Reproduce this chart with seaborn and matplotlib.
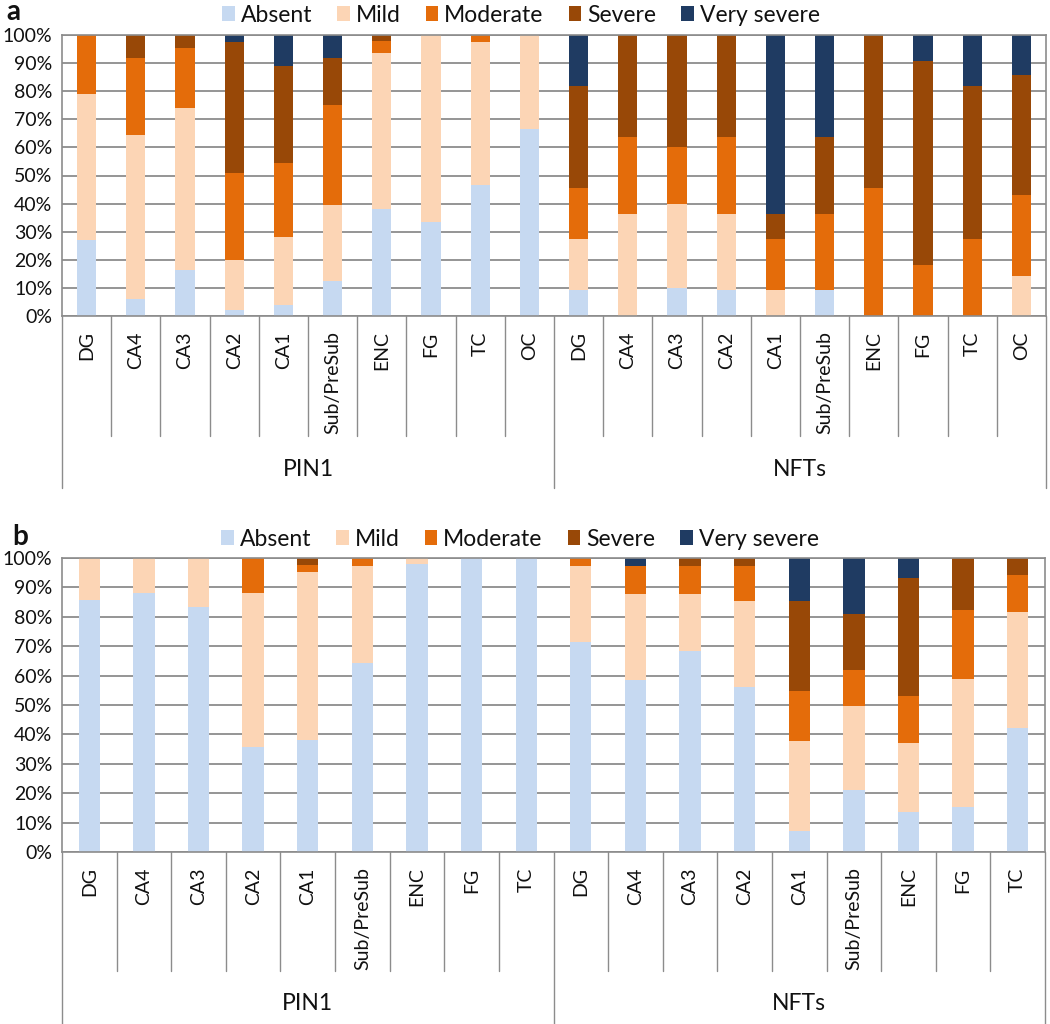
import matplotlib
matplotlib.use("Agg")
import matplotlib.pyplot as plt
import matplotlib.transforms as mtransforms
from matplotlib.patches import Patch
import pandas as pd
import seaborn as sns

# categories
regions_a = ['DG', 'CA4', 'CA3', 'CA2', 'CA1', 'Sub/PreSub', 'ENC', 'FG', 'TC', 'OC']
regions_b = ['DG', 'CA4', 'CA3', 'CA2', 'CA1', 'Sub/PreSub', 'ENC', 'FG', 'TC']
groups = ['PIN1', 'NFTs']
severity = ['Absent', 'Mild', 'Moderate', 'Severe', 'Very severe']
colors = ['#C6D9F1', '#FCD5B5', '#E46C0A', '#984807', '#1F3B62']

# panel a: % of cases per severity (PIN1 regions then NFTs regions)
a_absent = [27.0, 6.0, 16.3, 2.0, 4.0, 12.3, 38.2, 33.3, 46.6, 66.7,
            9.1, 0.0, 10.0, 9.1, 0.0, 9.1, 0.0, 0.0, 0.0, 0.0]
a_mild = [52.0, 58.3, 57.8, 17.9, 24.2, 27.1, 55.5, 66.7, 51.0, 33.3,
          18.2, 36.4, 30.0, 27.3, 9.1, 0.0, 0.0, 0.0, 0.0, 14.3]
a_moderate = [21.0, 27.4, 21.3, 31.1, 26.1, 35.7, 4.3, 0.0, 2.4, 0.0,
              18.2, 27.3, 20.0, 27.3, 18.2, 27.3, 45.5, 18.2, 27.3, 28.6]
a_severe = [0.0, 8.3, 4.6, 46.6, 34.7, 16.6, 2.0, 0.0, 0.0, 0.0,
            36.4, 36.3, 40.0, 36.3, 9.1, 27.3, 54.5, 72.7, 54.5, 42.9]
a_very = [0.0, 0.0, 0.0, 2.4, 11.0, 8.3, 0.0, 0.0, 0.0, 0.0,
          18.1, 0.0, 0.0, 0.0, 63.6, 36.3, 0.0, 9.1, 18.2, 14.2]

# panel b
b_absent = [85.7, 88.0, 83.3, 35.7, 38.0, 64.2, 97.8, 100.0, 100.0,
            71.3, 58.6, 68.3, 56.1, 7.1, 21.2, 13.7, 15.3, 42.2]
b_mild = [14.3, 12.0, 16.7, 52.3, 57.3, 33.2, 2.2, 0.0, 0.0,
          26.1, 29.1, 19.4, 29.3, 30.8, 28.6, 23.5, 43.6, 39.6]
b_moderate = [0.0, 0.0, 0.0, 12.0, 2.2, 2.6, 0.0, 0.0, 0.0,
              2.6, 9.7, 9.7, 12.0, 17.0, 12.0, 16.0, 23.3, 12.3]
b_severe = [0.0, 0.0, 0.0, 0.0, 2.5, 0.0, 0.0, 0.0, 0.0,
            0.0, 0.0, 2.6, 2.6, 30.6, 19.1, 39.9, 17.8, 5.9]
b_very = [0.0, 0.0, 0.0, 0.0, 0.0, 0.0, 0.0, 0.0, 0.0,
          0.0, 2.6, 0.0, 0.0, 14.5, 19.1, 6.9, 0.0, 0.0]

sns.set_style('white')
plt.rcParams['font.family'] = ['Lato', 'DejaVu Sans']

GRID = '#8C8C8C'
palette = dict(zip(severity, colors))


def long_table(series, n):
    rows = []
    for sev, vals in zip(severity, series):
        for i, v in enumerate(vals):
            rows.append({'pos': i, 'severity': sev, 'pct': v})
    return pd.DataFrame(rows)


def draw_panel(ax, regions, series, sep_depth, grp_depth, grp_y):
    cats = regions + regions
    n = len(cats)
    df = long_table(series, n)
    # seaborn stacks the first hue level on top, so reverse the order
    sns.histplot(data=df, x='pos', hue='severity', weights='pct',
                 multiple='stack', discrete=True, shrink=0.39,
                 hue_order=severity[::-1], palette=palette,
                 linewidth=0, alpha=1, legend=False, ax=ax)
    ax.set_xlim(-0.5, n - 0.5)
    ax.set_ylim(0, 100)
    ax.set_yticks(range(0, 101, 10))
    ax.set_yticklabels([f'{v}%' for v in range(0, 101, 10)])
    ax.set_xticks(range(n))
    ax.set_xticklabels(cats, rotation=90)
    ax.set_xlabel('')
    ax.set_ylabel('')
    ax.yaxis.grid(True, color=GRID, lw=1.3)
    ax.set_axisbelow(True)
    for s in ax.spines.values():
        s.set_color(GRID)
        s.set_linewidth(1.2)
    ax.tick_params(axis='y', length=3, color=GRID, labelsize=14, pad=4,
                   labelcolor='#111111')
    ax.tick_params(axis='x', length=0, labelsize=14, pad=11,
                   labelcolor='#111111')

    trans = mtransforms.blended_transform_factory(ax.transData, ax.transAxes)
    half = n // 2
    for i in range(n + 1):
        x = i - 0.5
        depth = grp_depth if i in (0, half, n) else sep_depth
        ax.plot([x, x], [0, depth], transform=trans, clip_on=False,
                color=GRID, lw=1.0)
    for g, grp in enumerate(groups):
        ax.text(g * half + (half - 1) / 2, grp_y, grp, transform=trans,
                ha='center', va='center', fontsize=16.5, color='#111111')


fig = plt.figure(figsize=(10.5, 10.24), dpi=100)
ax_a = fig.add_axes([62 / 1050, 1 - 316 / 1024, 984 / 1050, 281 / 1024])
ax_b = fig.add_axes([62 / 1050, 1 - 852 / 1024, 983 / 1050, 294 / 1024])

draw_panel(ax_a, regions_a, [a_absent, a_mild, a_moderate, a_severe, a_very],
           -0.427, -0.612, -0.548)
draw_panel(ax_b, regions_b, [b_absent, b_mild, b_moderate, b_severe, b_very],
           -0.405, -0.585, -0.514)

handles = [Patch(facecolor=c, edgecolor='none', label=s)
           for s, c in zip(severity, colors)]
for ycen, xcen in [(1 - 15 / 1024, 521 / 1050), (1 - 539 / 1024, 520 / 1050)]:
    fig.legend(handles=handles, loc='center', bbox_to_anchor=(xcen, ycen),
               ncol=5, frameon=False, fontsize=16.5, handlelength=0.55,
               handleheight=0.6, handletextpad=0.25, columnspacing=1.1,
               labelcolor='#111111')

fig.text(6 / 1050, 1 - 12 / 1024, 'a', fontsize=20, fontweight='bold',
         ha='left', va='center', color='#111111')
fig.text(12 / 1050, 1 - 537 / 1024, 'b', fontsize=20, fontweight='bold',
         ha='left', va='center', color='#111111')

fig.savefig('out.png', dpi=100)
